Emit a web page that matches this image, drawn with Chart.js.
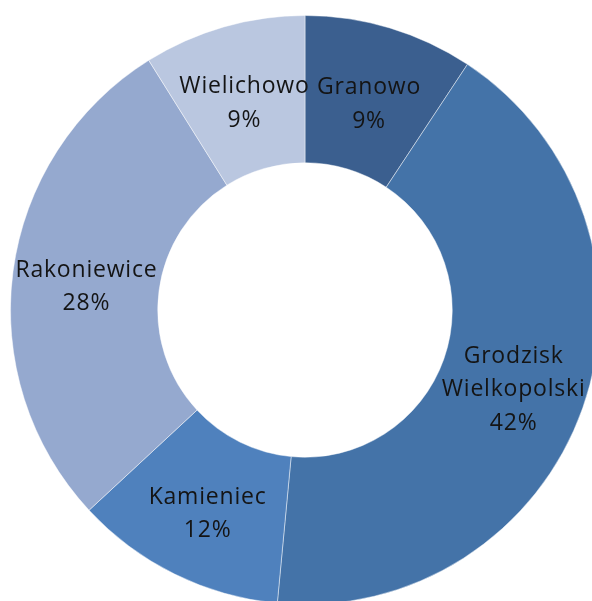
<!DOCTYPE html>
<html>
<head>
<meta charset="utf-8">
<script src="https://cdn.jsdelivr.net/npm/chart.js@4"></script>
<style>
  html, body { margin: 0; padding: 0; background: #fff; overflow: hidden; }
  #wrap { position: absolute; left: 0; top: 0; width: 610px; height: 620px; }
</style>
</head>
<body>
<div id="wrap"><canvas id="donut" width="610" height="620"></canvas></div>
<script>
// ===== DATA =====
const categories = ["Granowo", "Grodzisk Wielkopolski", "Kamieniec", "Rakoniewice", "Wielichowo"];
const shares = [9.3, 42.2, 11.6, 28.0, 8.9];
const sliceColors = ["#3b5f8f", "#4473a8", "#4f81bd", "#95a9cf", "#bac7e0"];

// ===== LABELS INSIDE SLICES =====
const sliceLabels = {
  id: "sliceLabels",
  afterDatasetsDraw(chart) {
    const ctx = chart.ctx;
    const meta = chart.getDatasetMeta(0);
    const total = shares.reduce((a, b) => a + b, 0);
    ctx.save();
    ctx.font = "23px 'Open Sans', sans-serif";
    ctx.letterSpacing = "0.8px";
    ctx.fillStyle = "#141414";
    ctx.textAlign = "center";
    ctx.textBaseline = "middle";
    meta.data.forEach((arc, i) => {
      const pos = arc.tooltipPosition();
      const lines = categories[i].split(" ");
      lines.push(Math.round(shares[i] / total * 100) + "%");
      const lh = 33.5;
      const y0 = pos.y - (lines.length - 1) * lh / 2 + 6;
      lines.forEach((t, k) => ctx.fillText(t, pos.x + 0.4, y0 + k * lh));
    });
    ctx.restore();
  }
};

// ===== CHART =====
new Chart(document.getElementById("donut"), {
  type: "doughnut",
  data: {
    labels: categories,
    datasets: [{
      data: shares,
      backgroundColor: sliceColors,
      borderColor: "rgba(255,255,255,0.45)",
      borderWidth: 1
    }]
  },
  options: {
    responsive: false,
    animation: false,
    cutout: "50%",
    layout: { padding: { left: 10, right: 10, top: 15, bottom: 15 } },
    plugins: { legend: { display: false }, tooltip: { enabled: false } }
  },
  plugins: [sliceLabels]
});
</script>
</body>
</html>
